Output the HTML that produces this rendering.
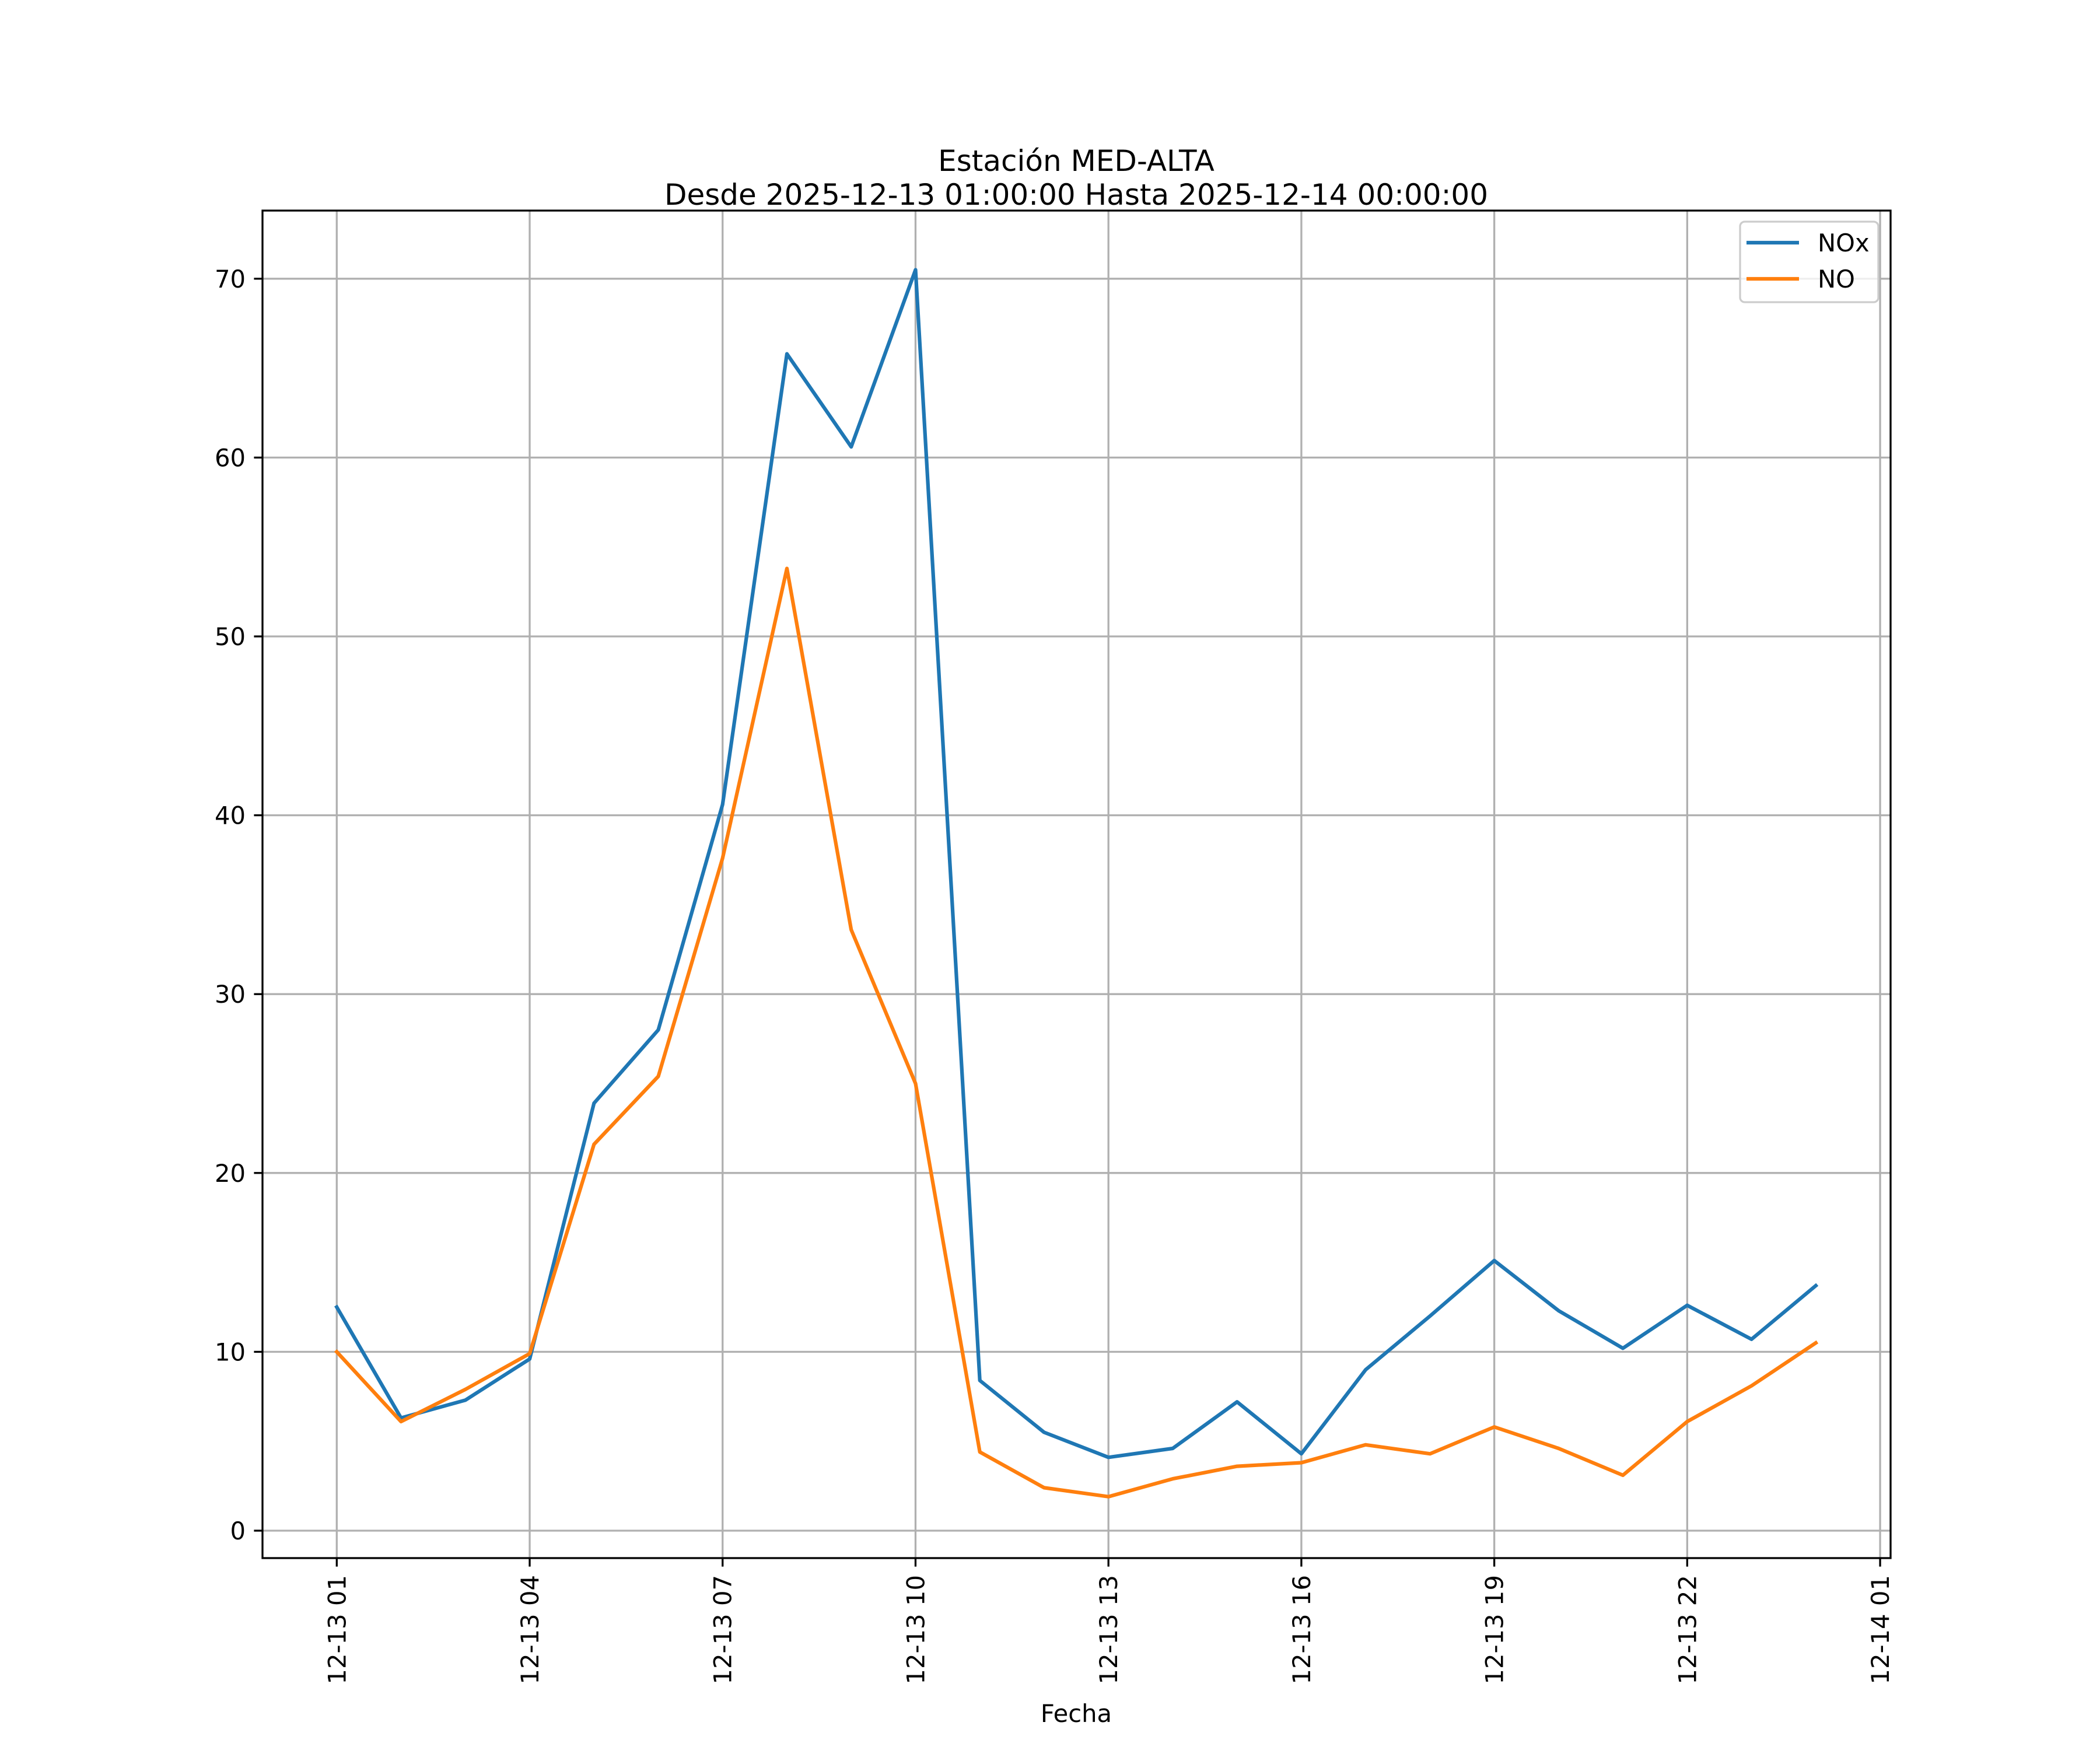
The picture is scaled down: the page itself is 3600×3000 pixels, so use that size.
<!DOCTYPE html>
<html><head><meta charset="utf-8"><style>
html,body{margin:0;padding:0;background:#fff}
svg{display:block}
text{font-family:"DejaVu Sans","Liberation Sans",sans-serif;fill:#000}
</style></head><body>
<svg id="chart" width="3600" height="3000" viewBox="0 0 3600 3000" xmlns="http://www.w3.org/2000/svg">
<rect width="3600" height="3000" fill="#fff"/>
<g id="grid"></g>
<g id="series"></g>
<rect x="450" y="361" width="2791" height="2310" fill="none" stroke="#000" stroke-width="3.3"/>
<g id="ticks"></g>
<text x="1845" y="293" font-size="50" text-anchor="middle">Estación MED-ALTA</text>
<text x="1845" y="351" font-size="50" text-anchor="middle">Desde 2025-12-13 01:00:00 Hasta 2025-12-14 00:00:00</text>
<text x="1845" y="2952" font-size="41.7" text-anchor="middle">Fecha</text>
<g>
<rect x="2983" y="380" width="237" height="138" rx="8" fill="#fff" fill-opacity="0.8" stroke="#ccc" stroke-width="3.3"/>
<line x1="2994" y1="416" x2="3084" y2="416" stroke="#1f77b4" stroke-width="6.25"/>
<text x="3116" y="431" font-size="41.7">NOx</text>
<line x1="2994" y1="478" x2="3084" y2="478" stroke="#ff7f0e" stroke-width="6.25"/>
<text x="3116" y="493" font-size="41.7">NO</text>
</g>
</svg>
<script>
const hours = [1,2,3,4,5,6,7,8,9,10,11,12,13,14,15,16,17,18,19,20,21,22,23,24];
const noxValues = [12.5,6.3,7.3,9.6,23.9,28.0,40.6,65.8,60.6,70.5,8.4,5.5,4.1,4.6,7.2,4.3,9.0,12.0,15.1,12.3,10.2,12.6,10.7,13.7];
const noValues = [10.0,6.1,7.9,9.9,21.6,25.4,37.6,53.8,33.6,25.0,4.4,2.4,1.9,2.9,3.6,3.8,4.8,4.3,5.8,4.6,3.1,6.1,8.1,10.5];
const yTicks = [0,10,20,30,40,50,60,70];
const xTickHours = [1,4,7,10,13,16,19,22,25];
const xTickLabels = ["12-13 01","12-13 04","12-13 07","12-13 10","12-13 13","12-13 16","12-13 19","12-13 22","12-14 01"];

const NS="http://www.w3.org/2000/svg";
const L=450,R=3241,T=361,B=2671;
function xs(h){return 577.3+(h-1)*110.24;}
function ys(v){return 2624-v*30.66;}
function mk(tag,attrs,parent){const e=document.createElementNS(NS,tag);for(const k in attrs)e.setAttribute(k,attrs[k]);document.getElementById(parent).appendChild(e);return e;}

yTicks.forEach(v=>{
  const g=mk('line',{x1:L,x2:R,y1:ys(v),y2:ys(v),stroke:'#b0b0b0','stroke-width':3.3},'grid');
  
  
  const t=mk('line',{x1:L-14.6,x2:L,y1:ys(v),y2:ys(v),stroke:'#000','stroke-width':3.3},'ticks');
  
  
  const lb=mk('text',{x:L-29,y:ys(v)+15,'font-size':41.7,'text-anchor':'end'},'ticks');
  lb.textContent=v;
  
  
});
xTickHours.forEach((h,i)=>{
  const x=xs(h);
  const g=mk('line',{x1:x,x2:x,y1:T,y2:B,stroke:'#b0b0b0','stroke-width':3.3},'grid');
  
  
  const t=mk('line',{x1:x,x2:x,y1:B,y2:B+14.6,stroke:'#000','stroke-width':3.3},'ticks');
  
  
  const lb=mk('text',{x:x,y:B+29,'font-size':41.7,'text-anchor':'end',transform:`rotate(-90 ${x} ${B+29})`,dy:'0.36em'},'ticks');
  lb.textContent=xTickLabels[i];
  
  
});
function series(vals,color,name){
  const pts=vals.map((v,i)=>xs(hours[i]).toFixed(1)+','+ys(v).toFixed(1)).join(' ');
  const p=mk('polyline',{points:pts,fill:'none',stroke:color,'stroke-width':6.25,'stroke-linejoin':'round','stroke-linecap':'square'},'series');
  
  
}
series(noxValues,'#1f77b4','nox-line');
series(noValues,'#ff7f0e','no-line');
</script>
</body></html>
